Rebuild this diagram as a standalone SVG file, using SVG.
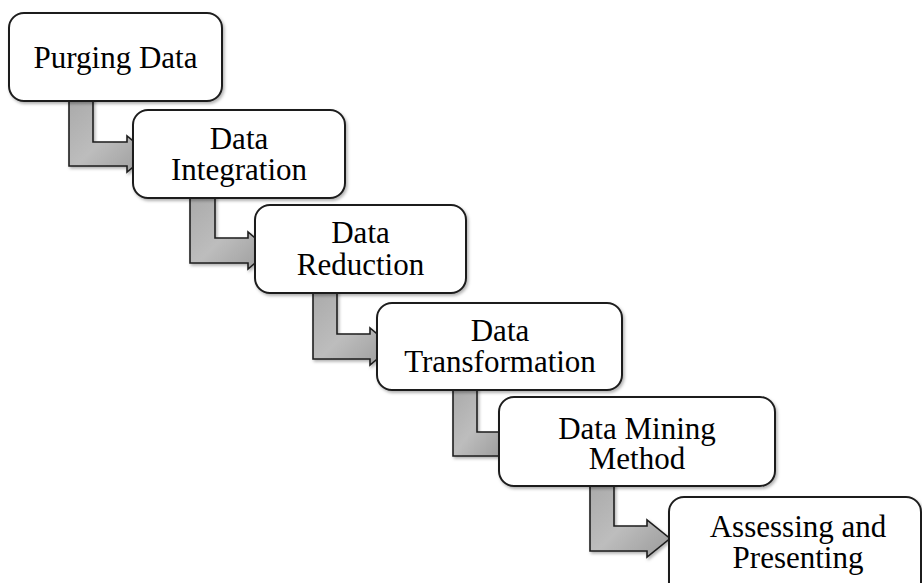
<svg xmlns="http://www.w3.org/2000/svg" width="922" height="583" viewBox="0 0 922 583">
<defs>
<style>
.box{fill:#fff;stroke:#1e1e1e;stroke-width:2;filter:url(#sh)}
.arr{fill:url(#g);stroke:#1e1e1e;stroke-width:1.6;stroke-linejoin:miter;filter:url(#sh)}
.t{font-family:"Liberation Serif","Times New Roman",serif;font-size:31px;fill:#000;text-anchor:middle}
</style>
<linearGradient id="g" x1="0" y1="0" x2="1" y2="1">
<stop offset="0" stop-color="#a9a9a9"/>
<stop offset="0.5" stop-color="#bdbdbd"/>
<stop offset="1" stop-color="#9a9a9a"/>
</linearGradient>
<filter id="sh" x="-10%" y="-10%" width="130%" height="130%">
<feDropShadow dx="1.5" dy="2" stdDeviation="1.5" flood-color="#000" flood-opacity="0.3"/>
</filter>
</defs>
<rect width="922" height="583" fill="#fff"/>
<g id="connectors">
<path class="arr" d="M69,96 L93,96 L93,142 L127,142 L127,136 L149,154 L127,172 L127,166 L69,166 Z"/>
<path class="arr" d="M190,193 L215,193 L215,238 L248,238 L248,232 L270,250.5 L248,269 L248,263 L190,263 Z"/>
<path class="arr" d="M313,288 L337,288 L337,334 L370,334 L370,328 L392,346.5 L370,365 L370,359 L313,359 Z"/>
<path class="arr" d="M453,385 L477,385 L477,432 L505,432 L505,456 L453,456 Z"/>
<path class="arr" d="M590,481 L614,481 L614,526 L647,526 L647,520 L670,538.5 L647,557 L647,551 L590,551 Z"/>
</g>
<g id="n1">
<rect class="box" x="9" y="13" width="213" height="88" rx="15"/>
<text class="t" x="115.5" y="68">Purging Data</text>
</g>
<g id="n2">
<rect class="box" x="133" y="110" width="212" height="88" rx="15"/>
<text class="t" x="239" y="149">Data</text>
<text class="t" x="239" y="180">Integration</text>
</g>
<g id="n3">
<rect class="box" x="255" y="205" width="211" height="88" rx="15"/>
<text class="t" x="360.5" y="243">Data</text>
<text class="t" x="360.5" y="275">Reduction</text>
</g>
<g id="n4">
<rect class="box" x="377" y="303" width="245" height="87" rx="15"/>
<text class="t" x="500" y="341">Data</text>
<text class="t" x="500" y="372">Transformation</text>
</g>
<g id="n5">
<rect class="box" x="499" y="397" width="276" height="89" rx="15"/>
<text class="t" x="637" y="439">Data Mining</text>
<text class="t" x="637" y="469">Method</text>
</g>
<g id="n6">
<rect class="box" x="669" y="497" width="252" height="120" rx="15"/>
<text class="t" x="798" y="537">Assessing and</text>
<text class="t" x="798" y="568">Presenting</text>
</g>
</svg>
